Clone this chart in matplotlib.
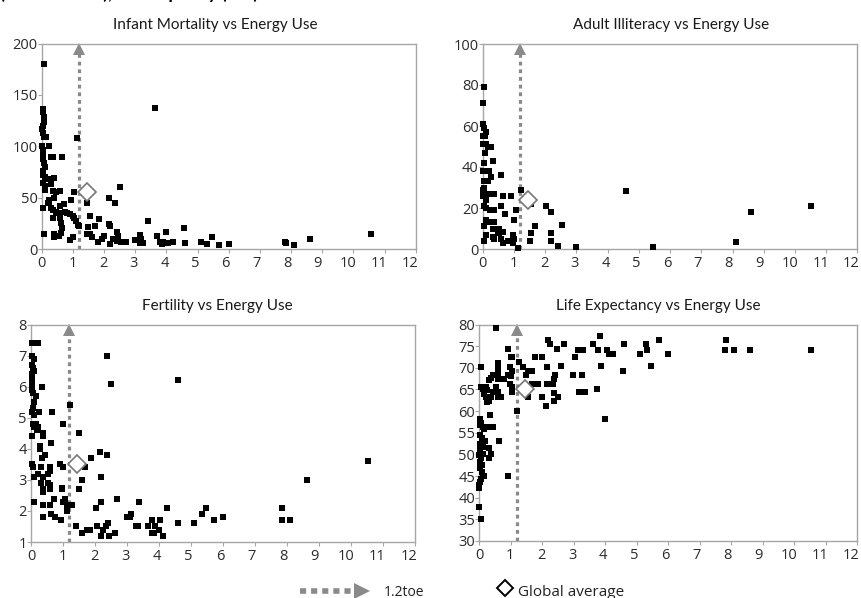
import matplotlib
matplotlib.use('Agg')
import matplotlib.pyplot as plt
from matplotlib.transforms import offset_copy, ScaledTranslation
import numpy as np

# energy use (toe per capita) vs indicators
infant_x = [0.08, 0.03, 0.05, 0.06, 0.08, 0.05, 0.0, 0.03, 0.08, 0.15, 0.22, 0.0, 0.05,
            0.05, 0.05, 0.08, 0.1, 0.05, 0.03, 0.12, 0.25, 0.38, 0.05, 0.12, 0.1, 0.05,
            0.08, 0.3, 0.35, 0.65, 0.3, 0.2, 0.25, 0.35, 0.45, 0.6, 0.4, 0.25, 0.3, 0.35,
            0.45, 0.55, 0.6, 0.7, 0.75, 0.8, 0.9, 1.0, 1.05, 1.1, 1.15, 0.6, 0.62, 0.65,
            0.62, 0.55, 0.4, 0.38, 0.35, 0.95, 1.05, 1.0, 0.9, 1.2, 1.12, 1.45, 1.55, 1.5,
            1.45, 1.55, 1.7, 1.6, 1.8, 1.85, 2.0, 1.95, 2.15, 2.15, 2.2, 2.2, 2.3, 2.35,
            2.4, 2.45, 2.5, 2.4, 2.55, 2.7, 2.6, 3.0, 3.15, 3.2, 3.15, 3.25, 3.4, 3.65,
            3.7, 3.8, 3.85, 3.9, 4.0, 4.05, 4.2, 4.55, 4.6, 5.1, 5.3, 5.45, 5.7, 6.0,
            7.8, 7.85, 8.1, 8.6, 10.55]
infant_y = [180, 136, 133, 128, 124, 120, 117, 113, 109, 109, 100, 100, 96,
            92, 88, 84, 80, 76, 72, 70, 68, 69, 64, 61, 57, 40,
            15, 90, 90, 90, 63, 45, 48, 56, 55, 56, 50, 45, 40, 38,
            36, 35, 42, 44, 36, 35, 34, 32, 30, 27, 23, 30, 25, 20,
            16, 13, 12, 15, 30, 48, 55, 12, 9, 22, 108, 45, 32, 21,
            15, 15, 22, 12, 7, 29, 13, 10, 50, 24, 22, 5, 10, 45,
            17, 13, 60, 8, 7, 7, 7, 9, 14, 10, 6, 6, 27, 137,
            13, 7, 5, 7, 17, 6, 7, 20, 6, 7, 5, 12, 4, 5,
            7, 6, 4, 10, 15]

illit_x = [0.03, 0.0, 0.0, 0.05, 0.1, 0.0, 0.08, 0.1, 0.0, 0.16, 0.27, 0.08, 0.05, 0.0,
           0.32, 0.21, 0.27, 0.6, 0.05, 0.16, 0.05, 0.0, 0.1, 0.27, 0.37, 0.0, 0.1,
           0.05, 0.1, 0.24, 0.37, 0.59, 0.66, 0.9, 0.72, 1.0, 1.07, 1.23, 0.1, 0.16,
           0.37, 0.05, 0.32, 0.48, 0.53, 0.64, 0.1, 0.32, 0.37, 0.53, 0.59, 0.64, 0.8,
           0.96, 1.01, 0.05, 0.96, 1.14, 1.55, 2.03, 2.19, 1.55, 1.51, 1.69, 2.19, 2.19,
           2.4, 2.53, 2.99, 4.59, 5.46, 8.1, 8.6, 10.5]
illit_y = [79, 71, 61, 59, 57, 55, 55, 51, 51, 50, 50, 47, 42, 38,
           43, 38, 35, 36, 33, 33, 30, 29, 27, 27, 27, 26, 24,
           21, 20, 19, 19, 21, 26, 26, 17, 14, 19, 29, 14, 13,
           13, 11, 10, 9, 10, 8.5, 7, 6, 5, 8, 5, 3, 4,
           7, 5, 4, 3, 0.5, 22, 21, 18, 8, 4, 11, 8, 4,
           1.5, 11.5, 0.8, 28.5, 0.8, 3.3, 18, 21]

fert_x = [0.02, 0.1, 0.23, 0.04, 0.1, 0.02, 0.07, 0.09, 0.04, 0.02, 0.04, 0.02, 0.07,
          0.15, 0.1, 0.33, 0.07, 0.04, 0.1, 0.26, 0.65, 0.07, 0.15, 0.23, 0.09, 0.2,
          0.36, 0.39, 0.02, 0.61, 0.28, 0.28, 0.33, 0.44, 0.04, 0.07, 0.31, 0.59, 0.9,
          1.0, 0.1, 0.23, 0.39, 0.54, 0.59, 0.31, 0.54, 0.59, 0.59, 0.36, 0.36, 0.96,
          0.96, 0.09, 0.39, 0.59, 0.73, 1.01, 1.06, 1.11, 1.11, 1.22, 1.29, 0.39, 0.62,
          0.75, 0.94, 0.99, 1.22, 1.51, 1.41, 1.58, 1.58, 1.51, 1.69, 1.76, 1.84, 1.88,
          2.02, 2.05, 2.16, 2.18, 2.18, 2.19, 2.26, 2.34, 2.36, 2.39, 2.42, 2.44, 2.5,
          2.625, 2.7, 3.01, 3.09, 3.14, 3.27, 3.33, 3.39, 3.65, 3.77, 3.77, 3.85, 3.89,
          4.01, 4.03, 4.14, 4.24, 4.58, 4.6, 5.1, 5.33, 5.47, 5.73, 6.0, 7.83, 7.85,
          8.1, 8.64, 10.54]
fert_y = [7.4, 7.4, 7.4, 7.0, 6.9, 6.7, 6.6, 6.5, 6.4, 6.2, 6.05, 5.9, 5.8,
          5.7, 5.5, 6.0, 5.3, 5.2, 5.1, 5.2, 5.2, 4.8, 4.8, 4.7, 4.7, 4.6,
          4.5, 4.4, 4.4, 4.2, 4.1, 4.0, 3.7, 3.8, 3.5, 3.4, 3.4, 3.4, 3.5,
          3.4, 3.1, 3.2, 3.1, 3.2, 3.3, 2.9, 2.9, 2.85, 2.7, 2.7, 2.6, 2.75,
          2.7, 2.3, 2.2, 2.2, 2.4, 2.3, 2.4, 2.2, 2.0, 2.2, 2.2, 1.8, 1.9,
          1.8, 1.7, 4.8, 5.4, 4.5, 1.5, 1.3, 3.0, 2.7, 3.4, 1.4, 1.4, 3.7,
          2.1, 1.5, 3.9, 3.1, 2.3, 1.2, 1.4, 1.5, 3.8, 7.0, 1.6, 1.2, 6.1,
          1.3, 2.4, 1.8, 1.8, 1.9, 1.5, 1.5, 2.3, 1.5, 1.7, 1.3, 1.3, 1.5,
          1.4, 1.7, 1.2, 2.1, 6.2, 1.6, 1.6, 1.9, 2.1, 1.7, 1.8, 2.1, 1.7,
          1.7, 3.0, 3.6]

life_x = [0.53, 0.05, 0.05, 0.11, 0.16, 0.21, 0.26, 0.16, 0.21, 0.32, 0.24, 0.37, 0.42,
          0.3, 0.37, 0.42, 0.53, 0.58, 0.58, 0.58, 0.58, 0.61, 0.69, 0.77, 0.58, 0.61,
          0.69, 0.9, 0.97, 1.0, 1.05, 1.0, 0.92, 0.96, 1.05, 1.05, 1.03, 1.19, 1.25,
          1.38, 1.54, 1.48, 1.67, 1.55, 1.69, 1.85, 1.78, 1.98, 2.0, 2.15, 2.15, 2.12,
          2.17, 2.24, 2.33, 2.36, 2.36, 2.38, 2.41, 2.46, 2.49, 2.6, 2.7, 2.97, 3.05,
          3.13, 3.29, 3.16, 3.25, 3.36, 3.25, 3.62, 3.73, 3.78, 3.83, 3.87, 4.0, 4.05,
          4.13, 4.24, 4.55, 4.59, 5.12, 5.3, 5.33, 5.45, 5.72, 5.98, 7.8, 7.83, 8.1,
          8.6, 10.54,
          0.03, 0.05, 0.03, 0.11, 0.16, 0.03, 0.08, 0.16, 0.03, 0.11, 0.03, 0.11, 0.05,
          0.03, 0.08, 0.02, 0.08, 0.11, 0.05, 0.03, 0.0, 0.0, 0.0, 0.05, 0.18, 0.21,
          0.32, 0.37, 0.3, 0.37, 0.34, 0.42, 0.64, 0.9, 0.16, 0.0]
life_y = [79.3, 70.3, 65.6, 65.2, 64.8, 65.6, 64.8, 63.9, 63.3, 62.4, 62.2, 63.3, 64.5,
          67.2, 67.7, 68.3, 65.6, 68.3, 69.5, 70.4, 71.2, 67.3, 67.3, 67.3, 64.5, 63.3,
          63.3, 74.4, 70.2, 72.5, 72.5, 68.1, 68.3, 66.2, 65.5, 64.5, 69.2, 60.1, 71.4,
          70.2, 69.2, 68.3, 69.2, 63.2, 66.2, 66.2, 72.5, 72.5, 63.2, 70.2, 66.2, 61.2,
          76.4, 75.6, 66.2, 64.2, 62.4, 67.3, 68.3, 74.3, 63.2, 70.4, 75.5, 68.3, 72.4,
          74.2, 74.2, 64.3, 64.3, 64.3, 68.3, 75.5, 65.0, 74.2, 77.3, 70.4, 58.1, 74.2,
          73.3, 73.3, 69.2, 75.5, 73.3, 75.5, 74.2, 70.4, 76.4, 73.3, 74.2, 76.4, 74.2,
          74.2, 74.2,
          58.1, 57.3, 56.8, 56.4, 55.8, 54.5, 53.7, 53.2, 52.4, 51.8, 51.0, 50.2, 49.1,
          48.3, 47.5, 46.8, 46.0, 45.1, 44.3, 43.7, 42.9, 42.2, 37.9, 35.0, 53.2, 56.4,
          51.4, 56.4, 49.1, 50.0, 59.2, 56.4, 53.2, 45.1, 45.0, 49.8]

titles = ['Infant Mortality vs Energy Use', 'Adult Illiteracy vs Energy Use',
          'Fertility vs Energy Use', 'Life Expectancy vs Energy Use']
ylims = [(0, 200), (0, 100), (1, 8), (30, 80)]
ysteps = [50, 20, 1, 5]
global_avg_x = 1.45
global_avg_y = [55, 24, 3.5, 65]
threshold = 1.2

W, H = 862, 598
# axes boxes in pixels: left, top, right, bottom
boxes = [(41.7, 43.5, 415.7, 249), (482.7, 44, 857.5, 249),
         (31, 324.5, 415, 542), (479.3, 324.5, 857, 541)]
# title centres (x) in pixels, chart-area centred like the source
title_cx = [215, 671, 217, 658]

fig = plt.figure(figsize=(W / 100, H / 100), dpi=100)
tick_font = ['Open Sans', 'DejaVu Sans']
title_font = ['Lato', 'DejaVu Sans']
grey_arrow = '#8a8a8a'

data = [(infant_x, infant_y), (illit_x, illit_y), (fert_x, fert_y), (life_x, life_y)]
for i, (xs, ys) in enumerate(data):
    l, t, r, b = boxes[i]
    ax = fig.add_axes([l / W, 1 - b / H, (r - l) / W, (b - t) / H])
    ax.set_xlim(0, 12)
    ax.set_ylim(*ylims[i])
    ax.set_xticks(range(0, 13))
    ax.set_yticks(np.arange(ylims[i][0], ylims[i][1] + 0.01, ysteps[i]))
    ax.yaxis.set_major_formatter(matplotlib.ticker.FormatStrFormatter('%g'))
    for s in ax.spines.values():
        s.set_color('#a6a6a6')
        s.set_linewidth(1.0)
    ax.tick_params(length=3, width=0.8, color='#a6a6a6', labelcolor='#2b2b2b',
                   labelsize=10.5)
    ax.tick_params(axis='x', pad=2)
    ax.tick_params(axis='y', pad=0)
    for lab in ax.get_xticklabels() + ax.get_yticklabels():
        lab.set_family(tick_font)
    # x labels drift slightly left of their ticks towards the right end
    for k, lab in enumerate(ax.get_xticklabels()):
        shift = ScaledTranslation(-0.5 * k / 100, 0, fig.dpi_scale_trans)
        lab.set_transform(lab.get_transform() + shift)
    fig.text(title_cx[i] / W, 1 - (t - 19) / H, titles[i], family=title_font,
             fontsize=11, color='#1a1a1a', ha='center', va='center')

    ymin, ymax = ylims[i]
    # dotted threshold arrow
    head = offset_copy(ax.transData, fig=fig, y=-5, units='dots')
    shaft_top = ymax - (ymax - ymin) * 10 / (b - t)
    ax.plot([threshold, threshold], [ymin, shaft_top], color=grey_arrow, lw=2.3,
            linestyle=(0, (1.2, 1.2)), zorder=2, clip_on=False)
    ax.plot([threshold], [ymax], marker='^', ms=8, color=grey_arrow, mew=0,
            transform=head, clip_on=False, zorder=2)

    ax.plot(xs, ys, 's', ms=4.3, color='black', mew=0, zorder=3, clip_on=False)
    ax.plot([global_avg_x], [global_avg_y[i]], 'D', ms=9, mfc='white', mec='#777777',
            mew=1.2, zorder=4)

# title of the page, cut off at the top edge
fig.text(0, 1 + 1.5 / H, '(UNDP 2007), and capacity (toe)', family=title_font,
         fontweight='bold', fontsize=13, va='baseline', ha='left', color='black')

# legend drawn in pixel coordinates
lax = fig.add_axes([0, 0, 1, 1], zorder=-1)
lax.set_xlim(0, W)
lax.set_ylim(H, 0)
lax.axis('off')
lax.plot([300, 352], [591, 591], color=grey_arrow, lw=4, linestyle=(0, (1.1, 0.9)))
lax.plot([362], [591], marker='>', ms=11, color=grey_arrow, mew=0)
lax.text(384, 592, '1.2toe', family=tick_font, fontsize=10, va='center', color='#222222')
lax.plot([505], [588], 'D', ms=8, mfc='white', mec='black', mew=1.4)
lax.text(518, 592, 'Global average', family=tick_font, fontsize=11, va='center',
         color='#222222')

fig.savefig('out.png', dpi=100)
